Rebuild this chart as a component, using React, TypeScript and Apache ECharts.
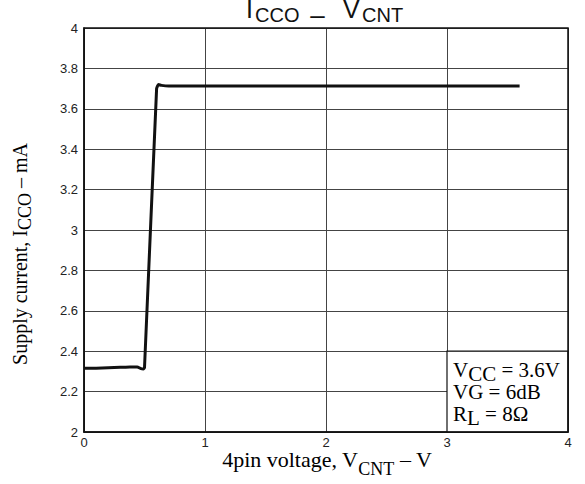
import React, { useEffect, useRef } from "react";
import * as echarts from "echarts";

const xValues = [0, 0.1, 0.2, 0.3, 0.38, 0.44, 0.47, 0.49, 0.5, 0.6, 0.615, 0.64, 0.7, 1.0, 1.5, 2.0, 2.5, 3.0, 3.6];
const yValues = [2.315, 2.316, 2.318, 2.32, 2.322, 2.322, 2.314, 2.312, 2.318, 3.7, 3.72, 3.716, 3.713, 3.713, 3.713, 3.713, 3.713, 3.713, 3.713];

const xTicks = { min: 0, max: 4, interval: 1 };
const yTicks = { min: 2, max: 4, interval: 0.2 };

const boxRange = { x0: 3, x1: 4, y0: 2, y1: 2.4 };

const titleParts = ["I", "CCO", "–", "V", "CNT"];

const serif = "'Liberation Serif', 'Times New Roman', serif";
const sans = "'Liberation Sans', Arial, sans-serif";

// shift > 0 moves the token down (in its own frame), shift < 0 moves it up
const tok = (size: number, fam: string, shift: number, L: number) => {
  const p = Math.abs(shift) * 2;
  return {
    fontSize: size,
    fontFamily: fam,
    color: "#111",
    lineHeight: L - p,
    padding: shift >= 0 ? [p, 0, 0, 0] : [0, 0, p, 0],
  };
};

const titleLayout = [
  { x: 246, y: 9, size: 25, align: "left" },
  { x: 255, y: 15, size: 20, align: "left" },
  { x: 317.5, y: 15, size: 26, align: "center" },
  { x: 343, y: 9, size: 25, align: "left" },
  { x: 362, y: 15, size: 20, align: "left" },
];

export default function App() {
  const ref = useRef<HTMLDivElement>(null);
  useEffect(() => {
    if (!ref.current) return;
    const chart = echarts.init(ref.current, undefined, { renderer: "svg" });
    const data = xValues.map((x, i) => [x, yValues[i]]);
    const titleGraphics = titleParts.map((t, i) => ({
      type: "text",
      x: titleLayout[i].x,
      y: titleLayout[i].y,
      style: {
        text: t,
        fontSize: titleLayout[i].size,
        fontFamily: sans,
        fill: "#111",
        align: titleLayout[i].align,
        verticalAlign: "middle",
      },
      z: 50,
    }));
    chart.setOption({
      animation: false,
      grid: { left: 84, right: 17, top: 28, bottom: 52 },
      xAxis: {
        type: "value",
        min: xTicks.min,
        max: xTicks.max,
        interval: xTicks.interval,
        axisLine: { show: true, onZero: false, lineStyle: { color: "#111", width: 1.5 } },
        axisTick: { show: false },
        axisLabel: { fontFamily: sans, fontSize: 13, color: "#222", margin: 4 },
        splitLine: { show: true, lineStyle: { color: "#444", width: 1 } },
      },
      yAxis: {
        type: "value",
        min: yTicks.min,
        max: yTicks.max,
        interval: yTicks.interval,
        axisLine: { show: true, onZero: false, lineStyle: { color: "#111", width: 1.5 } },
        axisTick: { show: false },
        axisLabel: { fontFamily: sans, fontSize: 13, color: "#222", margin: 6 },
        splitLine: { show: true, lineStyle: { color: "#444", width: 1 } },
      },
      graphic: [
        {
          type: "rect",
          shape: { x: 84, y: 28, width: 484, height: 404 },
          style: { fill: "none", stroke: "#111", lineWidth: 1.5 },
          z: 10,
          silent: true,
        },
        ...titleGraphics,
        {
          type: "text",
          x: 327,
          y: 463,
          style: {
            text: "{m|4pin voltage, V}{s|CNT}{m| – V}",
            align: "center",
            verticalAlign: "middle",
            rich: { m: tok(22, serif, -3.5, 24), s: tok(18, serif, 5.5, 24) },
          },
        },
        {
          type: "text",
          x: 22,
          y: 254,
          rotation: Math.PI / 2,
          style: {
            text: "{m|Supply current, I}{s|CCO}{m| – mA}",
            align: "center",
            verticalAlign: "middle",
            rich: { m: tok(20, serif, -2.5, 24), s: tok(18, serif, 3, 24) },
          },
        },
        {
          type: "text",
          x: 453,
          y: 359,
          style: {
            text: "{m|V}{s|CC}{m| = 3.6V}\n{m|VG = 6dB}\n{m|R}{s|L}{m| = 8Ω}",
            align: "left",
            verticalAlign: "top",
            rich: {
              m: { fontSize: 21, fontFamily: serif, color: "#111", lineHeight: 22 },
              s: tok(21, serif, 4, 22),
            },
          },
          z: 20,
        },
      ],
      series: [
        {
          type: "line",
          data,
          showSymbol: false,
          symbol: "none",
          smooth: 0.15,
          lineStyle: { color: "#111", width: 3, join: "round" },
          z: 5,
          markArea: {
            silent: true,
            itemStyle: { color: "#fff", borderColor: "#111", borderWidth: 1.2 },
            data: [[{ coord: [boxRange.x0, boxRange.y1] }, { coord: [boxRange.x1, boxRange.y0] }]],
          },
        },
      ],
    });
    return () => chart.dispose();
  }, []);
  return <div ref={ref} style={{ position: "absolute", left: 0, top: 0, width: 585, height: 484 }} />;
}
